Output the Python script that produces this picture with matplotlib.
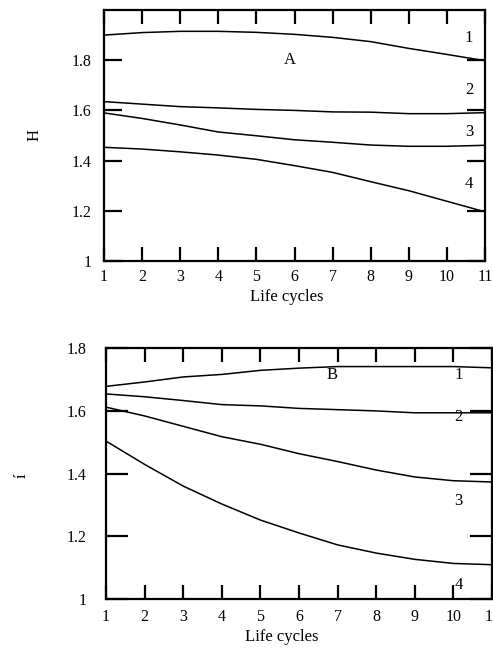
import matplotlib
matplotlib.use("Agg")
import matplotlib.pyplot as plt

plt.rcParams['font.family'] = ['Liberation Serif', 'DejaVu Serif']
plt.rcParams['mathtext.fontset'] = 'stix'

cycles = [1, 2, 3, 4, 5, 6, 7, 8, 9, 10, 11]

# Panel A (H)
a1 = [1.900, 1.910, 1.915, 1.915, 1.911, 1.903, 1.891, 1.874, 1.847, 1.823, 1.798]
a2 = [1.635, 1.625, 1.615, 1.610, 1.604, 1.600, 1.594, 1.593, 1.587, 1.587, 1.591]
a3 = [1.590, 1.568, 1.542, 1.514, 1.499, 1.483, 1.473, 1.462, 1.457, 1.457, 1.461]
a4 = [1.453, 1.446, 1.435, 1.422, 1.405, 1.380, 1.353, 1.316, 1.280, 1.238, 1.196]

# Panel B (í)
b1 = [1.677, 1.691, 1.707, 1.715, 1.728, 1.735, 1.740, 1.740, 1.740, 1.740, 1.736]
b2 = [1.653, 1.644, 1.632, 1.619, 1.615, 1.607, 1.603, 1.599, 1.593, 1.593, 1.593]
b3 = [1.611, 1.583, 1.550, 1.517, 1.493, 1.463, 1.438, 1.411, 1.389, 1.377, 1.373]
b4 = [1.503, 1.429, 1.360, 1.303, 1.252, 1.211, 1.173, 1.147, 1.127, 1.114, 1.110]

yticks = [1.0, 1.2, 1.4, 1.6, 1.8]
ytick_labels = ['1', '1.2', '1.4', '1.6', '1.8']
xtick_labels = [str(c) for c in cycles]
curve_names = ['1', '2', '3', '4']

a_label_y = [1.888, 1.681, 1.514, 1.307]
b_label_y = [1.713, 1.579, 1.313, 1.046]

fig = plt.figure(figsize=(4.93, 6.48), dpi=100)

axA = fig.add_axes([104/493, 1 - 261/648, 381/493, 251/648])
axB = fig.add_axes([106/493, 1 - 599.3/648, 386/493, 251.6/648])

def style(ax, ylo, yhi, ylen, ypad, xpad):
    ax.set_xlim(1, 11)
    ax.set_ylim(ylo, yhi)
    ax.set_xticks(cycles)
    ax.set_xticklabels(xtick_labels)
    ax.set_yticks(yticks)
    ax.set_yticklabels(ytick_labels)
    ax.tick_params(axis='x', direction='in', length=10, width=1.6, top=True,
                   bottom=True, labelsize=11.5, pad=xpad)
    ax.tick_params(axis='y', direction='in', length=ylen, width=1.6, left=True,
                   right=True, labelsize=11.5, pad=ypad)
    for s in ax.spines.values():
        s.set_linewidth(1.6)

style(axA, 1.0, 2.0, 13, 9, 6)
style(axB, 1.0, 1.8, 16, 14, 7)

for ys in (a1, a2, a3, a4):
    axA.plot(cycles, ys, color='black', lw=1.1)
for ys in (b1, b2, b3, b4):
    axB.plot(cycles, ys, color='black', lw=1.1)

for name, y in zip(curve_names, a_label_y):
    axA.text(10.58, y, name, fontsize=12, ha='center', va='center')
for name, y in zip(curve_names, b_label_y):
    axB.text(10.13, y, name, fontsize=12, ha='center', va='center')

axA.text(5.88, 1.80, 'A', fontsize=12, ha='center', va='center')
axB.text(6.86, 1.713, 'B', fontsize=12, ha='center', va='center')

axA.set_xlabel('Life cycles', fontsize=12)
axA.xaxis.set_label_coords(0.48, -0.113)
axA.set_ylabel('H', fontsize=12)
axA.yaxis.set_label_coords(-0.162, 0.502)

axB.set_xlabel('Life cycles', fontsize=12)
axB.xaxis.set_label_coords(0.456, -0.120)
axB.set_ylabel('í', fontsize=12)
axB.yaxis.set_label_coords(-0.197, 0.49)

fig.savefig('out.png', dpi=100)
